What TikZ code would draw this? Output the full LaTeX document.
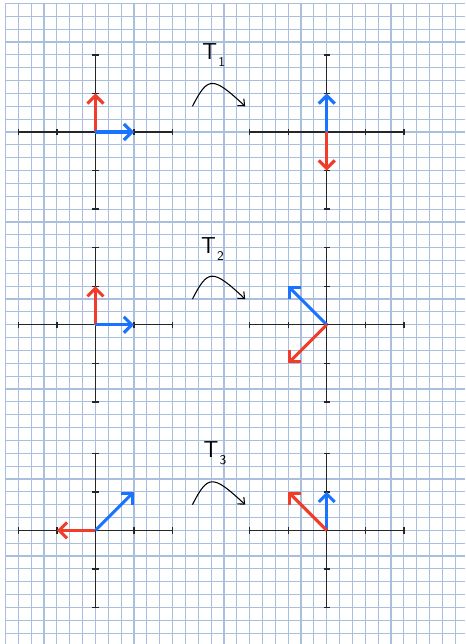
\documentclass[tikz,border=0pt]{standalone}
\usepackage{tikz}
\usetikzlibrary{arrows.meta, positioning}
\definecolor{gridblue}{RGB}{170,190,222}
\definecolor{vecred}{RGB}{240,60,40}
\definecolor{vecblue}{RGB}{25,115,255}
\tikzstyle{gridline} = [gridblue, line width=0.85pt]
\tikzstyle{axis}     = [black!85, line width=1.05pt]
\tikzstyle{vec}      = [line width=2.3pt, ->, >={Straight Barb[length=6pt,width=12pt]}]
\tikzstyle{maparrow} = [line width=0.8pt, ->, >={Straight Barb[length=4pt,width=7pt]}]
\tikzstyle{maplabel} = [font=\LARGE\sffamily, inner sep=0pt]
% axes with ticks at 1 and 2 (one unit = 3 squares)
\newcommand{\plotaxes}[2]{%
  \coordinate (#1) at (#2);
  \begin{scope}[shift={(#1)}]
    \draw[axis] (-6,0) -- (6,0);
    \draw[axis] (0,-6) -- (0,6);
    \foreach \t in {-6,-3,3,6} {
      \draw[axis] (\t,-0.25) -- (\t,0.25);
      \draw[axis] (-0.25,\t) -- (0.25,\t);
    }
  \end{scope}}

\begin{document}
\begin{tikzpicture}[x=9.6375pt, y=9.6375pt]
    \useasboundingbox (-0.428,0.272) rectangle (35.759,-49.844);
    \fill[white] (-0.428,0.272) rectangle (35.759,-49.844);
    \draw[gridline, step=1] (0,-49.844) grid (35.759,0);

    % before / after
    \plotaxes{al}{7,-10}  \plotaxes{ar}{25,-10}
    \plotaxes{bl}{7,-25}  \plotaxes{br}{25,-25}
    \plotaxes{cl}{7,-41}  \plotaxes{cr}{25,-41}

    % T1
    \path (al) ++(0,3) coordinate (al-r) (al) ++(3,0) coordinate (al-b);
    \path (ar) ++(0,3) coordinate (ar-b) (ar) ++(0,-3) coordinate (ar-r);
    \draw [vec, vecred]  (al) -- (al-r);
    \draw [vec, vecblue] (al) -- (al-b);
    \draw [vec, vecblue] (ar) -- (ar-b);
    \draw [vec, vecred]  (ar) -- (ar-r);

    % T2
    \path (bl) ++(0,3) coordinate (bl-r) (bl) ++(3,0) coordinate (bl-b);
    \path (br) ++(-3,3) coordinate (br-b) (br) ++(-3,-3) coordinate (br-r);
    \draw [vec, vecred]  (bl) -- (bl-r);
    \draw [vec, vecblue] (bl) -- (bl-b);
    \draw [vec, vecblue] (br) -- (br-b);
    \draw [vec, vecred]  (br) -- (br-r);

    % T3
    \path (cl) ++(-3,0) coordinate (cl-r) (cl) ++(3,3) coordinate (cl-b);
    \path (cr) ++(-3,3) coordinate (cr-r) (cr) ++(0,3) coordinate (cr-b);
    \draw [vec, vecred]  (cl) -- (cl-r);
    \draw [vec, vecblue] (cl) -- (cl-b);
    \draw [vec, vecblue] (cr) -- (cr-b);
    \draw [vec, vecred]  (cr) -- (cr-r);

    % the maps
    \node (t1) [maplabel] at (16.2,-4)  {T\kern1pt\raisebox{-5pt}{\normalsize 1}};
    \node (t2) [maplabel] at (16.1,-19.1) {T\kern1pt\raisebox{-5pt}{\normalsize 2}};
    \node (t3) [maplabel] at (16.3,-35) {T\kern1pt\raisebox{-5pt}{\normalsize 3}};
    \coordinate (s1) at (14.55,-8);  \coordinate (e1) at (18.65,-8);
    \coordinate (s2) at (14.55,-23); \coordinate (e2) at (18.65,-23);
    \coordinate (s3) at (14.55,-39); \coordinate (e3) at (18.65,-39);
    \draw [maparrow] (s1) .. controls +(1.2,2.36) and +(-2.53,2.36) .. (e1);
    \draw [maparrow] (s2) .. controls +(1.2,2.36) and +(-2.53,2.36) .. (e2);
    \draw [maparrow] (s3) .. controls +(1.2,2.36) and +(-2.53,2.36) .. (e3);
\end{tikzpicture}
\end{document}
